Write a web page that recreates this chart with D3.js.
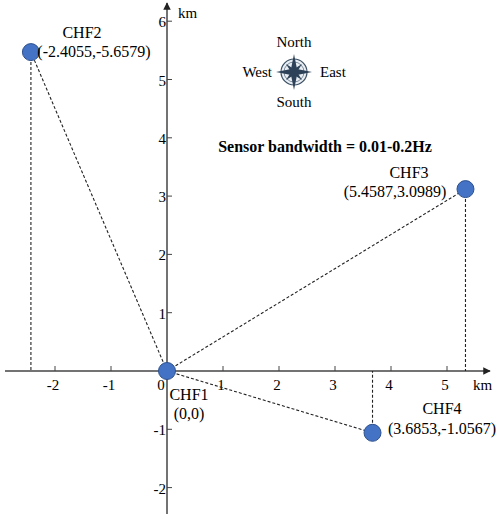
<!DOCTYPE html><html><head><meta charset="utf-8"><script src="https://cdn.jsdelivr.net/npm/d3@7"></script>
<style>body{margin:0;background:#fff} svg text{font-family:"Liberation Serif","Times New Roman",Tinos,"DejaVu Serif",serif !important;}</style></head><body><svg id="c" width="500" height="521"></svg>
<script>
const names=["CHF1","CHF2","CHF3","CHF4"];
const xs=[0,-2.43,5.33,3.67];
const ys=[0,5.47,3.12,-1.06];
const coordLabels=["(0,0)","(-2.4055,-5.6579)","(5.4587,3.0989)","(3.6853,-1.0567)"];
const xTicks=[-2,-1,0,1,2,3,4,5];
const yTicks=[-2,-1,1,2,3,4,5,6];
const svg=d3.select("#c");
const x=d3.scaleLinear().domain([0,1]).range([167,223]);
const y=d3.scaleLinear().domain([0,1]).range([371,312.7]);
const ax="#444";
svg.append("defs").append("marker").attr("id","ar").attr("viewBox","0 0 10 10").attr("refX",9).attr("refY",5)
 .attr("markerWidth",5).attr("markerHeight",5).attr("orient","auto").append("path").attr("d","M0,0L10,5L0,10z").attr("fill","#222");
svg.append("line").attr("x1",5).attr("x2",490).attr("y1",y(0)).attr("y2",y(0)).attr("stroke",ax).attr("stroke-width",1.5).attr("marker-end","url(#ar)");
svg.append("line").attr("x1",x(0)).attr("x2",x(0)).attr("y1",514).attr("y2",3).attr("stroke",ax).attr("stroke-width",1.5).attr("marker-end","url(#ar)");
xTicks.forEach(t=>{svg.append("line").attr("x1",x(t)).attr("x2",x(t)).attr("y1",y(0)).attr("y2",y(0)-5).attr("stroke",ax);
 svg.append("text").attr("x",x(t)-(t===0?6:2)).attr("y",y(0)+19).attr("text-anchor","middle").attr("font-size",15).text(t);});
yTicks.forEach(t=>{svg.append("line").attr("x1",x(0)).attr("x2",x(0)+5).attr("y1",y(t)).attr("y2",y(t)).attr("stroke",ax);
 svg.append("text").attr("x",x(0)-1).attr("y",y(t)+6).attr("text-anchor","end").attr("font-size",15).text(t);});
svg.append("text").attr("x",473).attr("y",y(0)+19).attr("font-size",15).text("km");
svg.append("text").attr("x",178).attr("y",18).attr("font-size",15).text("km");
for(let i=1;i<4;i++){
 svg.append("line").attr("x1",x(0)).attr("y1",y(0)).attr("x2",x(xs[i])).attr("y2",y(ys[i])).attr("stroke","#222").attr("stroke-dasharray","3,2").attr("stroke-width",1.1);
 svg.append("line").attr("x1",x(xs[i])).attr("y1",y(ys[i])).attr("x2",x(xs[i])).attr("y2",y(0)).attr("stroke","#222").attr("stroke-dasharray","3,2").attr("stroke-width",1.1);
}
xs.forEach((v,i)=>svg.append("circle").attr("cx",x(v)).attr("cy",y(ys[i])).attr("r",8.5).attr("fill","#4472C4").attr("stroke","#2F528F").attr("stroke-width",1));
const lp=[[[189,400],[189,419]],[[82,38],[94,57]],[[409,178],[395,197]],[[442,414],[442,434]]];
names.forEach((n,i)=>{svg.append("text").attr("x",lp[i][0][0]).attr("y",lp[i][0][1]).attr("text-anchor","middle").attr("font-size",16).text(n);
 svg.append("text").attr("x",lp[i][1][0]).attr("y",lp[i][1][1]).attr("text-anchor","middle").attr("font-size",16).text(coordLabels[i]);});
svg.append("text").attr("x",325).attr("y",152).attr("text-anchor","middle").attr("font-size",16).attr("font-weight","bold").text("Sensor bandwidth = 0.01-0.2Hz");
const cx=294,cy=72,g=svg.append("g").attr("transform",`translate(${cx},${cy})`);
g.append("circle").attr("r",13).attr("fill","#e8eef3").attr("stroke","#3a4e63").attr("stroke-width",1.2);
g.append("circle").attr("r",10).attr("fill","none").attr("stroke","#3a4e63").attr("stroke-width",0.6);
g.append("path").attr("d","M0,-18L3,-3L18,0L3,3L0,18L-3,3L-18,0L-3,-3Z").attr("fill","#2d4258");
g.append("path").attr("d","M0,-3L8,-8L3,0L8,8L0,3L-8,8L-3,0L-8,-8Z").attr("fill","#2d4258");
svg.append("text").attr("x",cx).attr("y",47).attr("text-anchor","middle").attr("font-size",15).text("North");
svg.append("text").attr("x",cx).attr("y",107).attr("text-anchor","middle").attr("font-size",15).text("South");
svg.append("text").attr("x",cx-22).attr("y",77).attr("text-anchor","end").attr("font-size",15).text("West");
svg.append("text").attr("x",cx+26).attr("y",77).attr("font-size",15).text("East");
</script></body></html>
